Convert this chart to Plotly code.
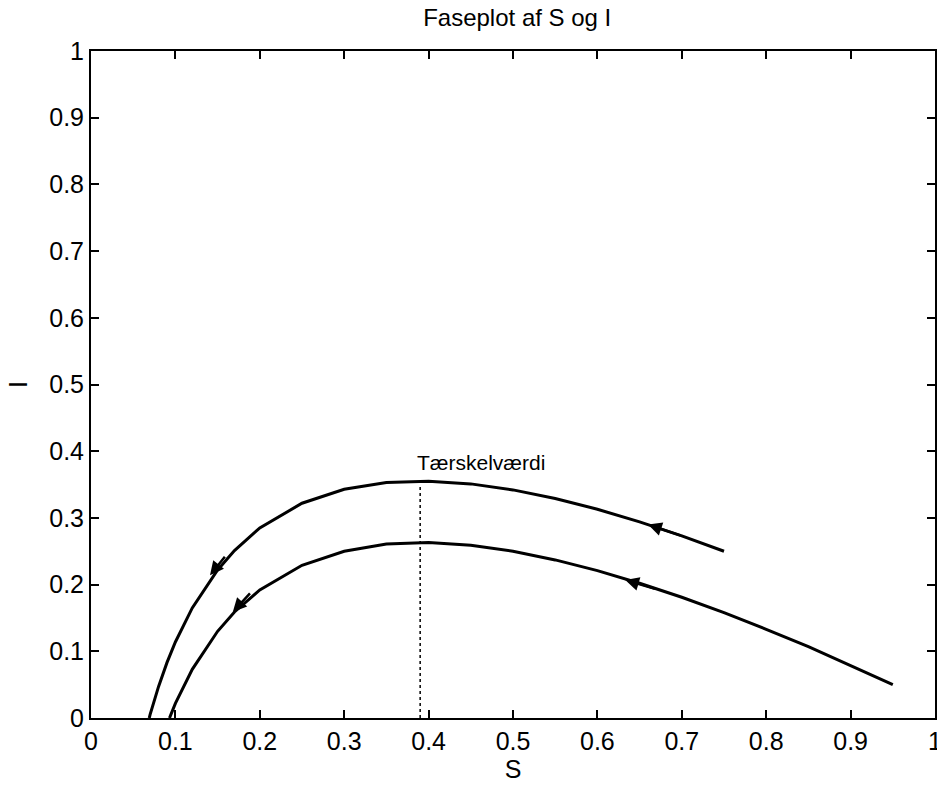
import plotly.graph_objects as go

# -----------------------------
# Data
# -----------------------------
S_upper = [0.75, 0.70, 0.65, 0.60, 0.55, 0.50, 0.45, 0.40, 0.35, 0.30, 0.25,
           0.20, 0.17, 0.15, 0.12, 0.10, 0.09, 0.08, 0.07, 0.069]
I_upper = [0.250, 0.273, 0.294, 0.313, 0.329, 0.342, 0.351, 0.355, 0.353, 0.343, 0.322,
           0.285, 0.251, 0.222, 0.165, 0.114, 0.083, 0.047, 0.005, 0.0]

S_lower = [0.95, 0.90, 0.85, 0.80, 0.75, 0.70, 0.65, 0.60, 0.55, 0.50, 0.45, 0.40,
           0.35, 0.30, 0.25, 0.20, 0.17, 0.15, 0.12, 0.10, 0.093]
I_lower = [0.050, 0.079, 0.107, 0.133, 0.158, 0.181, 0.202, 0.221, 0.237, 0.250, 0.259, 0.263,
           0.261, 0.250, 0.229, 0.192, 0.159, 0.130, 0.073, 0.022, 0.0]

# direction arrows: head (S, I) and tail (S, I)
arrow_head_S = [0.660, 0.141, 0.633, 0.168]
arrow_head_I = [0.290, 0.214, 0.207, 0.159]
arrow_tail_S = [0.700, 0.160, 0.670, 0.190]
arrow_tail_I = [0.273, 0.244, 0.193, 0.189]

threshold_S = 0.39
threshold_I = [0.0, 0.347]
threshold_label = "Tærskelværdi"

x_ticks = [0, 0.1, 0.2, 0.3, 0.4, 0.5, 0.6, 0.7, 0.8, 0.9, 1]
x_tick_text = ["0", "0.1", "0.2", "0.3", "0.4", "0.5", "0.6", "0.7", "0.8", "0.9", "1"]
y_ticks = [0, 0.1, 0.2, 0.3, 0.4, 0.5, 0.6, 0.7, 0.8, 0.9, 1]
y_tick_text = ["0", "0.1", "0.2", "0.3", "0.4", "0.5", "0.6", "0.7", "0.8", "0.9", "1"]

FONT = "Liberation Sans, Arial, sans-serif"

fig = go.Figure()

fig.add_trace(go.Scatter(x=S_upper, y=I_upper, mode="lines",
                         line=dict(color="black", width=3), showlegend=False))
fig.add_trace(go.Scatter(x=S_lower, y=I_lower, mode="lines",
                         line=dict(color="black", width=3), showlegend=False))
fig.add_trace(go.Scatter(x=[threshold_S, threshold_S], y=threshold_I, mode="lines",
                         line=dict(color="black", width=1.5, dash="dot"), showlegend=False))

annotations = []
for hx, hy, tx, ty in zip(arrow_head_S, arrow_head_I, arrow_tail_S, arrow_tail_I):
    annotations.append(dict(
        x=hx, y=hy, ax=tx, ay=ty, xref="x", yref="y", axref="x", ayref="y",
        text="", showarrow=True, arrowhead=2, arrowsize=1.1, arrowwidth=2.5,
        arrowcolor="black"
    ))

annotations.append(dict(
    x=0.384, y=0.383, xref="x", yref="y", text=threshold_label, showarrow=False,
    xanchor="left", yanchor="middle", font=dict(size=21, color="black", family=FONT)
))

fig.update_layout(
    width=937, height=786,
    margin=dict(l=91, r=2, t=51, b=68),
    plot_bgcolor="white", paper_bgcolor="white",
    font=dict(family=FONT, color="black", size=25),
    title=dict(text="Faseplot af S og I", x=0.552, xanchor="center",
               y=0.977, yanchor="middle", font=dict(size=24)),
    annotations=annotations,
    xaxis=dict(
        range=[0, 1], tickvals=x_ticks, ticktext=x_tick_text,
        ticks="inside", ticklen=8, tickwidth=2, tickcolor="black",
        showline=True, linecolor="black", linewidth=2, mirror="ticks",
        showgrid=False, zeroline=False, automargin=False,
        ticklabeloverflow="allow",
        title=dict(text="S", standoff=2, font=dict(size=25)),
    ),
    yaxis=dict(
        range=[0, 1], tickvals=y_ticks, ticktext=y_tick_text,
        ticks="inside", ticklen=8, tickwidth=2, tickcolor="black",
        showline=True, linecolor="black", linewidth=2, mirror="ticks",
        showgrid=False, zeroline=False, automargin=False,
        title=dict(text="I", standoff=14, font=dict(size=25)),
    ),
)

# page body has an 8px default margin; drop it so the figure sits at 0,0
fig.write_html("out.html", config={"displayModeBar": False},
               post_script="document.body.style.margin = '0';")
